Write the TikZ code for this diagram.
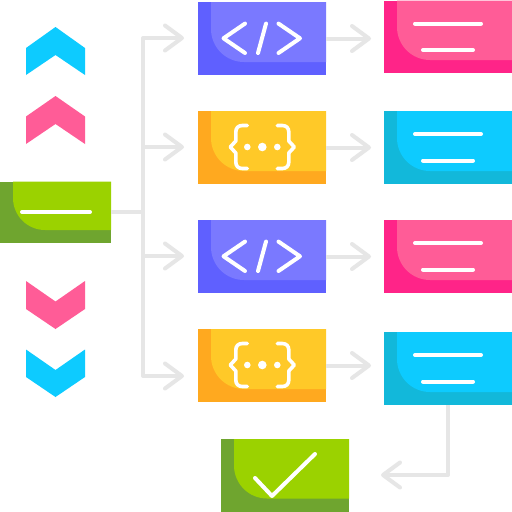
\documentclass[tikz,border=0pt]{standalone}
\usetikzlibrary{arrows.meta,calc}
\definecolor{purpleD}{HTML}{5F60FF}
\definecolor{purpleL}{HTML}{7A79FF}
\definecolor{pinkD}{HTML}{FF2488}
\definecolor{pinkL}{HTML}{FF5C97}
\definecolor{orangeD}{HTML}{FFA91F}
\definecolor{orangeL}{HTML}{FFC928}
\definecolor{cyanD}{HTML}{12B8DA}
\definecolor{cyanL}{HTML}{0DCBFF}
\definecolor{greenD}{HTML}{6FA52F}
\definecolor{greenL}{HTML}{9BD200}
\definecolor{wire}{HTML}{E6E6E6}
\tikzset{
  x=1pt,y=-1pt,
  cardbox/.style={rectangle,inner sep=0pt,outer sep=0pt,anchor=north west},
  wireline/.style={draw=wire,line width=4pt,line join=round},
  arrowwire/.style={wireline,-{Straight Barb[length=17pt,width=25pt,round,line width=4pt]}},
  glyph/.style={draw=white,line width=4pt,line cap=round,line join=round},
  thinglyph/.style={draw=white,line width=3.6pt,line cap=round,line join=round},
}
% name, x1, y1, x2, y2, inner bottom, radius, dark, light
\newcommand{\cardshape}[9]{%
  \pgfmathsetmacro{\cw}{#4-#2}\pgfmathsetmacro{\ch}{#5-#3}%
  \pgfmathsetmacro{\il}{#2+13}\pgfmathsetmacro{\ia}{#6-#7}%
  \pgfmathsetmacro{\ib}{#6-0.4477*#7}\pgfmathsetmacro{\ic}{\il+0.4477*#7}%
  \pgfmathsetmacro{\id}{\il+#7}%
  \node[cardbox,fill=#8,minimum width=\cw pt,minimum height=\ch pt] (#1) at (#2,#3) {};
  \fill[#9] (\il,#3) -- (#4,#3) -- (#4,#6) -- (\id,#6)
    .. controls (\ic,#6) and (\il,\ib) .. (\il,\ia) -- cycle;
}
\newcommand{\codeglyph}[1]{%
  \begin{scope}[shift={(262,#1)}]
    \draw[glyph] (-17,-14.7) -- (-38.5,0) -- (-17,14.7);
    \draw[glyph] (16.5,-14.7) -- (38,0) -- (16.5,14.7);
    \draw[glyph] (4,-14.7) -- (-4,14.7);
  \end{scope}}
\newcommand{\braceglyph}[1]{%
  \begin{scope}[shift={(262.3,#1)}]
    \draw[thinglyph] (-15,-21.5) -- (-20,-21.5) .. controls (-24,-21.5) and (-26.5,-19) .. (-26.5,-15)
       -- (-26.5,-6) -- (-32,0) -- (-26.5,6) -- (-26.5,15)
       .. controls (-26.5,19) and (-24,21.5) .. (-20,21.5) -- (-15,21.5);
    \draw[thinglyph] (15,-21.5) -- (20,-21.5) .. controls (24,-21.5) and (26.5,-19) .. (26.5,-15)
       -- (26.5,-6) -- (32,0) -- (26.5,6) -- (26.5,15)
       .. controls (26.5,19) and (24,21.5) .. (20,21.5) -- (15,21.5);
    \fill[white] (-15,0) circle (3.3pt) (0,0) circle (4.3pt) (15,0) circle (3.3pt);
  \end{scope}}
\begin{document}
\begin{tikzpicture}
\useasboundingbox (0,0) rectangle (512,512);
\fill[white] (0,0) rectangle (512,512);

% chevrons
\fill[cyanL] (26,48) -- (55.5,27) -- (85,48) -- (85,75) -- (55.5,55) -- (26,75) -- cycle;
\fill[pinkL] (26,116.5) -- (55.5,96) -- (85,116.5) -- (85,144) -- (55.5,124) -- (26,144) -- cycle;
\fill[pinkL] (26,281) -- (55.5,301.5) -- (85,281) -- (85,309) -- (55.5,329) -- (26,309) -- cycle;
\fill[cyanL] (26,349.5) -- (55.5,370) -- (85,349.5) -- (85,377) -- (55.5,397) -- (26,377) -- cycle;

% cards
\cardshape{start}{0}{181.7}{111}{243.3}{230}{32}{greenD}{greenL}
\cardshape{codeA}{198}{2}{326}{75}{62}{33}{purpleD}{purpleL}
\cardshape{braceA}{198}{111}{326}{184}{171}{33}{orangeD}{orangeL}
\cardshape{codeB}{198}{220}{326}{293}{280}{33}{purpleD}{purpleL}
\cardshape{braceB}{198}{329}{326}{402}{389}{33}{orangeD}{orangeL}
\cardshape{docA}{384}{0.5}{512}{73}{60}{33}{pinkD}{pinkL}
\cardshape{docB}{384}{111}{512}{184}{171}{33}{cyanD}{cyanL}
\cardshape{docC}{384}{220}{512}{293}{280}{33}{pinkD}{pinkL}
\cardshape{docD}{384}{332}{512}{405}{392}{33}{cyanD}{cyanL}
\cardshape{done}{221}{439}{349}{511.5}{498.5}{33}{greenD}{greenL}

% connectors
\coordinate (junction) at (143,212);
\coordinate (tipA) at (184,38);
\coordinate (tipB) at (184,147);
\coordinate (tipC) at (184,256);
\coordinate (tipD) at (184,376);
\draw[wireline] (start.east |- junction) -- (junction);
\draw[arrowwire] (junction) -- (junction |- tipA) -- (tipA);
\draw[arrowwire] (junction) -- (junction |- tipD) -- (tipD);
\draw[arrowwire] (junction |- tipB) -- (tipB);
\draw[arrowwire] (junction |- tipC) -- (tipC);
\draw[arrowwire,shorten >=13pt] (codeA.east) -- (codeA.east -| docA.west);
\draw[arrowwire,shorten >=13pt] (braceA.east) -- (docB.west);
\draw[arrowwire,shorten >=13pt] (codeB.east) -- (codeB.east -| docC.west);
\draw[arrowwire,shorten >=13pt] (braceB.east) -- (braceB.east -| docD.west);
\coordinate (bend) at (448,475);
\coordinate (tipE) at (381,475);
\draw[arrowwire] (docD.south -| bend) -- (bend) -- (tipE);

% glyphs
\draw[glyph] (22,212) -- (90,212);
\codeglyph{38.3}
\codeglyph{256.3}
\braceglyph{147}
\braceglyph{365}
\draw[glyph] (415,23.5) -- (481,23.5);
\draw[glyph] (423,50) -- (473,50);
\draw[glyph] (415,134) -- (481,134);
\draw[glyph] (423,160.5) -- (473,160.5);
\draw[glyph] (415,243) -- (481,243);
\draw[glyph] (423,269.5) -- (473,269.5);
\draw[glyph] (415,355) -- (481,355);
\draw[glyph] (423,381.5) -- (473,381.5);
\draw[glyph] (255,478) -- (272,496) -- (315,454);
\end{tikzpicture}
\end{document}
